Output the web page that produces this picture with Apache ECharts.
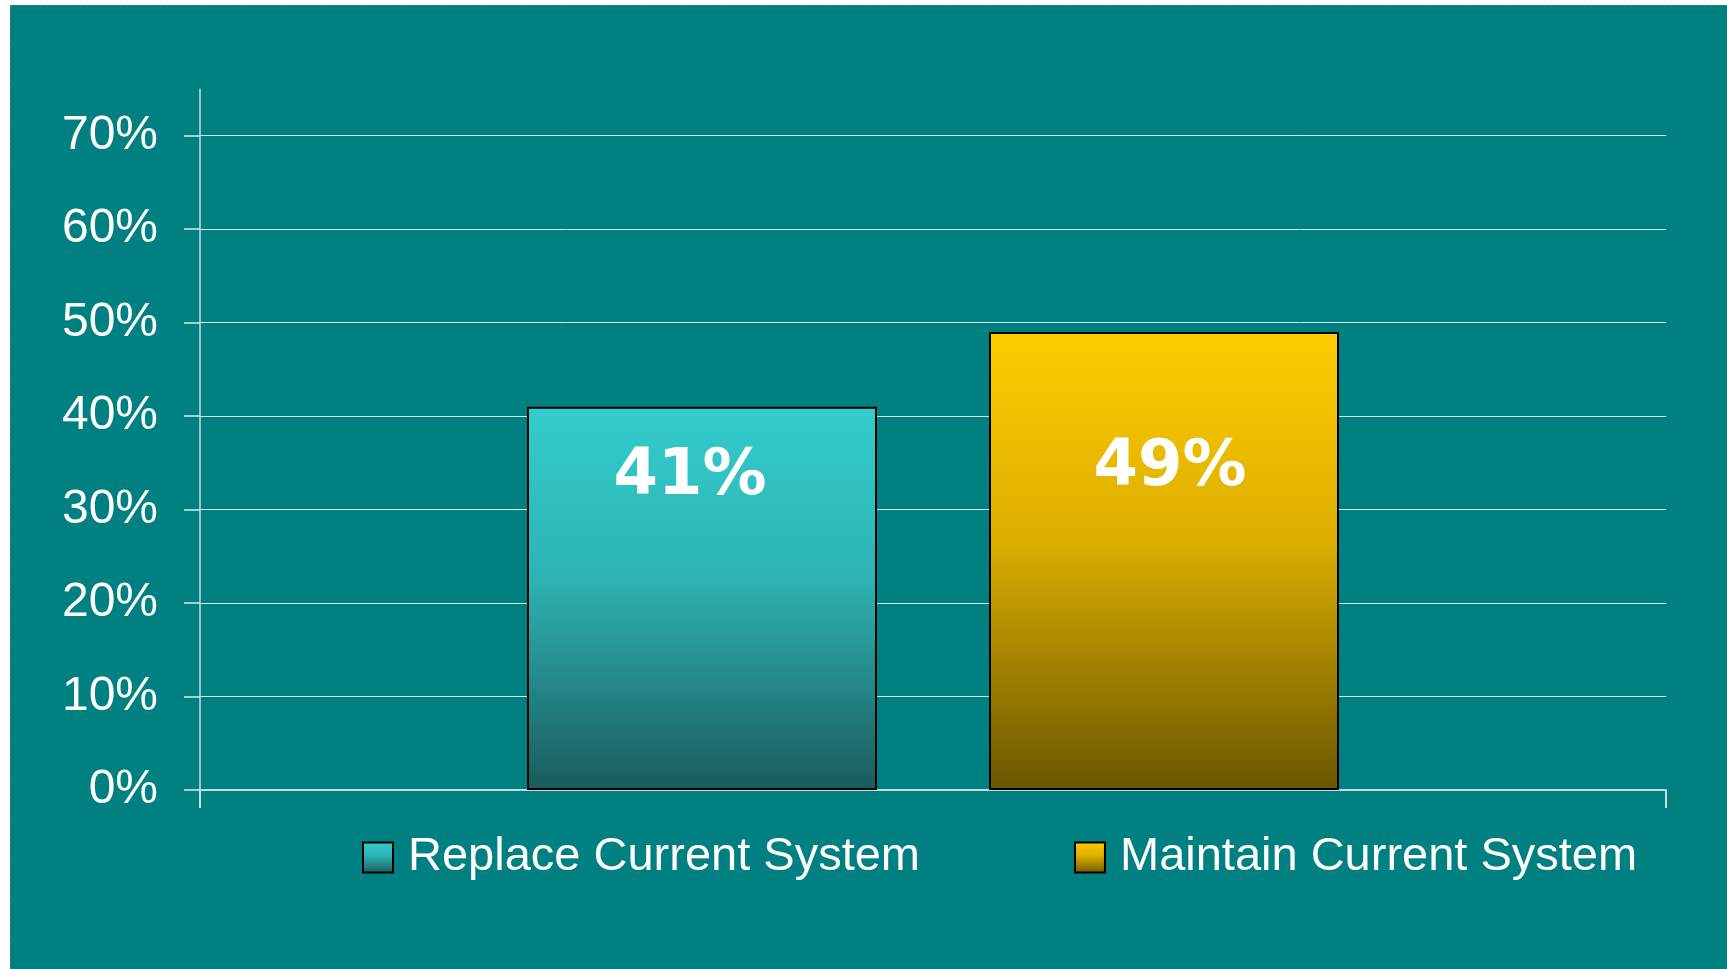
<!DOCTYPE html>
<html>
<head>
<meta charset="utf-8">
<script src="https://cdn.jsdelivr.net/npm/echarts@6/dist/echarts.min.js"></script>
<style>
  html, body { margin: 0; padding: 0; background: #ffffff; width: 1727px; height: 969px; overflow: hidden; }
  #chart { position: absolute; left: 10px; top: 5px; width: 1716px; height: 963px;
           border-top: 1px dashed #2a8a8a; border-left: 1px dashed #2a8a8a; background: #008080; }
</style>
</head>
<body>
<div id="chart"></div>
<script>
const categories = ['Survey'];
const seriesNames = ['Replace Current System', 'Maintain Current System'];
const replaceValues = [41];
const maintainValues = [49];
const yTickValues = [0, 10, 20, 30, 40, 50, 60, 70];

const chart = echarts.init(document.getElementById('chart'), null, { renderer: 'canvas' });

function grad(stops) {
  return new echarts.graphic.LinearGradient(0, 0, 0, 1, stops.map(s => ({ offset: s[0], color: s[1] })));
}
const tealGrad = grad([[0, '#33cccc'], [0.45, '#2eb3b3'], [1, '#1a5b5b']]);
const goldGrad = grad([[0, '#ffcc00'], [0.45, '#dcae00'], [1, '#6a5600']]);

const labelBase = {
  show: true,
  color: '#ffffff',
  fontFamily: 'DejaVu Sans',
  fontWeight: 'bold',
  fontSize: 64,
  align: 'center',
  verticalAlign: 'middle',
  formatter: p => p.value + '%'
};

chart.setOption({
  backgroundColor: '#008080',
  animation: false,
  textStyle: { fontFamily: 'Liberation Sans' },
  grid: { left: 189, right: 61, top: 83, bottom: 179 },
  legend: {
    data: seriesNames,
    left: 346,
    top: 823,
    itemWidth: 30,
    itemHeight: 30,
    itemGap: 154,
    icon: 'rect',
    itemStyle: { borderColor: '#000000', borderWidth: 2 },
    textStyle: { color: '#ffffff', fontSize: 47, fontFamily: 'Liberation Sans', padding: [0, 0, 0, 10] }
  },
  xAxis: {
    type: 'category',
    data: categories,
    axisLine: { lineStyle: { color: '#c4dede', width: 2 } },
    axisTick: { show: true, length: 18, lineStyle: { color: '#c4dede', width: 2 } },
    axisLabel: { show: false },
    splitLine: { show: false }
  },
  yAxis: {
    type: 'value',
    min: 0,
    max: 75,
    interval: 10,
    axisLine: { show: true, lineStyle: { color: '#c4dede', width: 1.5 } },
    axisTick: { show: true, length: 16, customValues: yTickValues, lineStyle: { color: '#d8ecec', width: 1.5 } },
    axisLabel: {
      customValues: yTickValues,
      margin: 42,
      color: '#ffffff',
      fontSize: 48,
      fontFamily: 'Liberation Sans',
      formatter: v => v + '%'
    },
    splitLine: { show: true, lineStyle: { color: '#d8ecec', width: 1 } }
  },
  series: [
    {
      name: seriesNames[0],
      type: 'bar',
      data: replaceValues,
      barWidth: 350,
      barGap: '32%',
      itemStyle: { color: tealGrad, borderColor: '#000000', borderWidth: 2 },
      label: Object.assign({}, labelBase, { position: ['50%', 71], offset: [-12, 0] })
    },
    {
      name: seriesNames[1],
      type: 'bar',
      data: maintainValues,
      barWidth: 350,
      barGap: '32%',
      itemStyle: { color: goldGrad, borderColor: '#000000', borderWidth: 2 },
      label: Object.assign({}, labelBase, { position: ['50%', 136], offset: [6, 0] })
    }
  ]
});
</script>
</body>
</html>
